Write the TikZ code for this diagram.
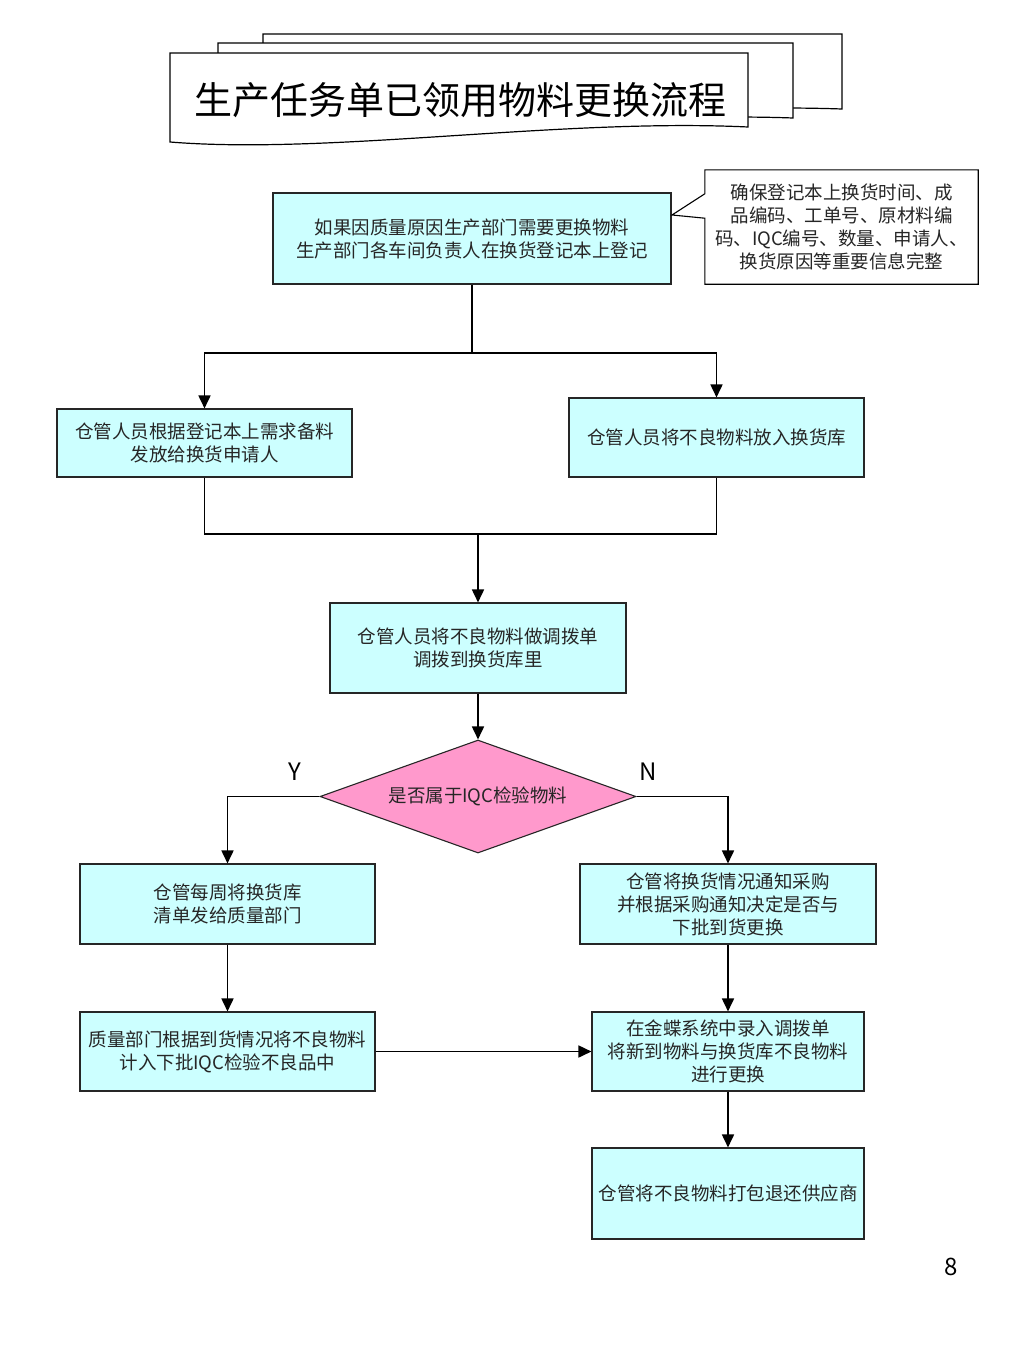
\documentclass[tikz,border=0pt]{standalone}
\usepackage{fontspec}
\setmainfont{Noto Sans CJK SC}
\usetikzlibrary{arrows.meta,shapes.geometric,calc}
\definecolor{boxcyan}{HTML}{CCFFFF}
\definecolor{diapink}{HTML}{FF99CC}
\begin{document}
\begin{tikzpicture}[x=1pt,y=-1pt,
  box/.style={draw=black!85,line width=1.1pt,fill=boxcyan,inner sep=0pt,align=center,
    font=\fontsize{18.5}{23}\selectfont,text=black!85},
  docshape/.style={draw=black,line width=1.2pt,fill=white},
  callbox/.style={draw=black,line width=1.1pt,fill=white},
  conn/.style={line width=1.7pt,draw=black},
  arr/.style={conn,-{Triangle[length=13pt,width=12pt]}},
  lbl/.style={font=\fontsize{24}{28}\selectfont,inner sep=0pt}]
\useasboundingbox (0,0) rectangle (1024,1365);

% title multi-document
\draw[docshape] (263,34) -- (842,34) -- (842,109) .. controls (640,102) and (480,135) .. (263,124) -- cycle;
\draw[docshape] (218,43) -- (793,43) -- (793,118) .. controls (600,111) and (430,145) .. (218,133) -- cycle;
\draw[docshape] (170,53) -- (748,53) -- (748,127) .. controls (560,118) and (330,155) .. (170,142) -- cycle;
\node[inner sep=0pt,font=\fontsize{38}{44}\selectfont] (title) at (460,100) {生产任务单已领用物料更换流程};

% boxes
\node[box,minimum width=398pt,minimum height=91pt] (b1) at (472,238.5) {如果因质量原因生产部门需要更换物料\\生产部门各车间负责人在换货登记本上登记};
\node[box,minimum width=295pt,minimum height=68pt] (b2) at (204.5,443) {仓管人员根据登记本上需求备料\\发放给换货申请人};
\node[box,minimum width=295pt,minimum height=79pt] (b3) at (716.5,437.5) {仓管人员将不良物料放入换货库};
\node[box,minimum width=296pt,minimum height=90pt] (b4) at (478,648) {仓管人员将不良物料做调拨单\\调拨到换货库里};
\node[box,diamond,fill=diapink,aspect=2.8,minimum width=316pt,minimum height=113pt] (dia) at (478,796.5) {是否属于IQC检验物料};
\node[box,minimum width=295pt,minimum height=80pt] (b5) at (227.5,904) {仓管每周将换货库\\清单发给质量部门};
\node[box,minimum width=296pt,minimum height=80pt] (b6) at (728,904) {仓管将换货情况通知采购\\并根据采购通知决定是否与\\下批到货更换};
\node[box,minimum width=295pt,minimum height=79pt] (b7) at (227.5,1051.5) {质量部门根据到货情况将不良物料\\计入下批IQC检验不良品中};
\node[box,minimum width=272pt,minimum height=79pt] (b8) at (728,1051.5) {在金蝶系统中录入调拨单\\将新到物料与换货库不良物料\\进行更换};
\node[box,minimum width=272pt,minimum height=91pt] (b9) at (728,1193.5) {仓管将不良物料打包退还供应商};

% callout
\coordinate (tip) at (672,215);
\node[inner sep=0pt,minimum width=273pt,minimum height=114pt] (co) at (841.5,227) {};
\draw[callbox] (co.north west) -- (co.north east) -- (co.south east) -- (co.south west) -- ++(0,-66) -- (tip) -- ($(co.north west)+(0,24)$) -- cycle;
\node[inner sep=0pt,align=center,font=\fontsize{18.5}{23}\selectfont,text=black!85] (cotext) at (co.center) {确保登记本上换货时间、成\\品编码、工单号、原材料编\\码、IQC编号、数量、申请人、\\换货原因等重要信息完整};

% connectors
\coordinate (j1) at (472,353);
\draw[conn] (b1.south) -- (j1);
\draw[arr] (j1) -| (b2.north);
\draw[arr] (j1) -| (b3.north);
\coordinate (j2) at (478,534);
\draw[conn] (b2.south) |- (j2);
\draw[conn] (b3.south) |- (j2);
\draw[arr] (j2) -- (b4.north);
\draw[arr] (b4.south) -- (dia.north);
\draw[arr] (dia.west) -| (b5.north);
\draw[arr] (dia.east) -| (b6.north);
\draw[arr] (b5) -- (b7);
\draw[arr] (b6) -- (b8);
\draw[arr] (b7) -- (b8);
\draw[arr] (b8) -- (b9);

% labels
\node[lbl] (ly) at (295,772) {Y};
\node[lbl] (ln) at (648,772) {N};
\node[lbl] (pg) at (951,1267) {8};
\end{tikzpicture}
\end{document}
